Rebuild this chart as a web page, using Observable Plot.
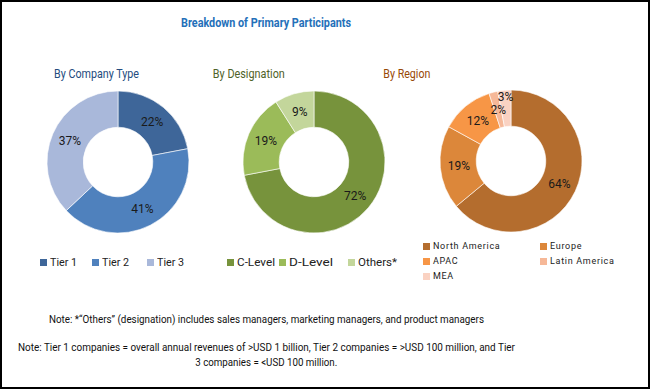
<!DOCTYPE html>
<html><head><meta charset="utf-8">
<script src="https://cdn.jsdelivr.net/npm/d3@7"></script>
<script src="https://cdn.jsdelivr.net/npm/@observablehq/plot@0.6"></script>
<style>
html,body{margin:0;padding:0;background:#fff;}
#frame{position:relative;width:650px;height:389px;box-sizing:border-box;border:2px solid #000;overflow:hidden;background:#fff;
  font-family:Roboto,"Open Sans",sans-serif;color:#000;}
.abs{position:absolute;white-space:nowrap;}
.c{text-align:center;width:600px;}
.c > span{display:inline-block;transform-origin:50% 50%;}
.title{font-weight:bold;font-size:13.5px;color:#2470B9;}
.sub{font-size:13.5px;}
.note{font-size:11px;color:#111;}
.item{display:flex;align-items:center;white-space:nowrap;font-size:11px;color:#222;}
.item > span:last-child{display:inline-block;transform-origin:0 50%;}
.sw{width:7px;height:7px;margin-right:3px;flex:none;}
.ritem{font-size:9px;letter-spacing:0.7px;}
</style></head><body><div id="frame"></div>
<script>
// ---- data ----
const chartTitle = "Breakdown of Primary Participants";
const companyTypes = ["Tier 1", "Tier 2", "Tier 3"];
const companyShares = [22, 41, 37];
const companyColors = ["#3E6699", "#4F81BD", "#A9B8DA"];
const designations = ["C-Level", "D-Level", "Others*"];
const designationShares = [72, 19, 9];
const designationColors = ["#77933C", "#9BBB59", "#C3D69B"];
const regions = ["North America", "Europe", "APAC", "Latin America", "MEA"];
const regionShares = [64, 19, 12, 2, 3];
const regionColors = ["#B46D2E", "#DC873A", "#F79646", "#F6B898", "#FAD2C2"];
const subtitles = ["By Company Type", "By Designation", "By Region"];
const notes = [
  "Note: *\u201COthers\u201D (designation) includes sales managers, marketing managers, and product managers",
  "Note: Tier 1 companies = overall annual revenues of >USD 1 billion, Tier 2 companies = >USD 100 million, and Tier",
  "3 companies = <USD 100 million."
];

const frame = document.getElementById("frame");
function place(el, left, top) { el.classList.add("abs"); el.style.left = left + "px"; el.style.top = top + "px"; frame.appendChild(el); return el; }
function squeeze(span, target) {
  const w = span.getBoundingClientRect().width;
  if (w > 0) span.style.transform = `scaleX(${(target / w).toFixed(4)})`;
}
function centered(cls, txt, center, top, width, color) {
  const d = document.createElement("div"); d.className = cls + " c";
  const s = document.createElement("span"); s.textContent = txt; d.appendChild(s);
  place(d, center - 300, top);
  if (color) d.style.color = color;
  squeeze(s, width);
  return d;
}

// title
centered("title", chartTitle, 264, 12, 170);

// subtitles
const subColors = ["#244C7E", "#4F6228", "#984807"];
const subCenters = [95, 247, 405];
const subWidths = [85, 72, 47];
subtitles.forEach((s, i) => centered("sub", s, subCenters[i], 63, subWidths[i], subColors[i]));

const SIZE = 150, R = 71, INNER = 0.49;
function donut(labels, values, colors) {
  const color = Plot.scale({color: {type: "ordinal", domain: labels, range: colors}});
  const data = labels.map((label, i) => ({label, value: values[i]}));
  const arcs = d3.pie().sort(null).value(d => d.value)(data);
  const mid = (1 + INNER) / 2;
  const rows = arcs.map((a, i) => {
    const ang = (a.startAngle + a.endAngle) / 2;
    const crowded = i > 0 && a.data.value < 5 && arcs[i - 1].data.value < 5;
    const r = crowded ? 0.91 : mid;
    return {label: a.data.label, value: a.data.value, start: a.startAngle, end: a.endAngle,
            lx: r * Math.sin(ang), ly: r * Math.cos(ang)};
  });
  const dom = SIZE / 2 / R;
  return Plot.plot({
    width: SIZE, height: SIZE, margin: 0,
    x: {domain: [-dom, dom], axis: null},
    y: {domain: [-dom, dom], axis: null},
    style: {fontFamily: "Roboto, sans-serif", background: "transparent", overflow: "visible"},
    marks: [
      (index, scales) => {
        const cx = scales.x(0), cy = scales.y(0);
        const ro = scales.x(1) - scales.x(0);
        const arc = d3.arc().innerRadius(ro * INNER).outerRadius(ro);
        const g = d3.create("svg:g").attr("transform", `translate(${cx},${cy})`);
        g.selectAll("path").data(rows).join("path")
          .attr("d", d => arc({startAngle: d.start, endAngle: d.end}))
          .attr("fill", d => color.apply(d.label))
          .attr("stroke", "#fff").attr("stroke-width", 0.6);
        return g.node();
      },
      Plot.text(rows, {x: "lx", y: "ly", text: d => d.value + "%", fontSize: 12, fill: "#1a1a1a"})
    ]
  });
}

// pies
const pieDefs = [
  {labels: companyTypes, values: companyShares, colors: companyColors, cx: 118, cy: 162},
  {labels: designations, values: designationShares, colors: designationColors, cx: 314, cy: 162},
  {labels: regions, values: regionShares, colors: regionColors, cx: 511, cy: 161}
];
pieDefs.forEach(p => {
  const svg = donut(p.labels, p.values, p.colors);
  place(svg, p.cx - SIZE / 2 - 2, p.cy - SIZE / 2 - 2);
});

// legends
function legendItem(label, col, extra) {
  const it = document.createElement("div"); it.className = "item" + (extra ? " " + extra : "");
  const sw = document.createElement("span"); sw.className = "sw"; sw.style.background = col;
  const tx = document.createElement("span"); tx.textContent = label;
  it.appendChild(sw); it.appendChild(tx); return it;
}
// layout: left edge of each swatch, text widths in the reference
const lg1X = [40, 92, 147], lg1W = [27, 27, 27];
companyTypes.forEach((l, i) => {
  const it = place(legendItem(l, companyColors[i]), lg1X[i] - 2, 254);
  squeeze(it.lastChild, lg1W[i]);
});
const lg2X = [227, 279, 348], lg2W = [38, 44, 39];
designations.forEach((l, i) => {
  const it = place(legendItem(l, designationColors[i]), lg2X[i] - 2, 254);
  squeeze(it.lastChild, lg2W[i]);
});
const lg3X = [423, 540], lg3Y = [239, 254, 269];
regions.forEach((l, i) => {
  place(legendItem(l, regionColors[i], "ritem"), lg3X[i % 2] - 2, lg3Y[Math.floor(i / 2)]);
});

// notes
const noteTops = [311, 339, 354];
const noteWidths = [435, 497, 142];
notes.forEach((n, i) => centered("note", n, 264, noteTops[i], noteWidths[i]));
</script>
</body></html>
